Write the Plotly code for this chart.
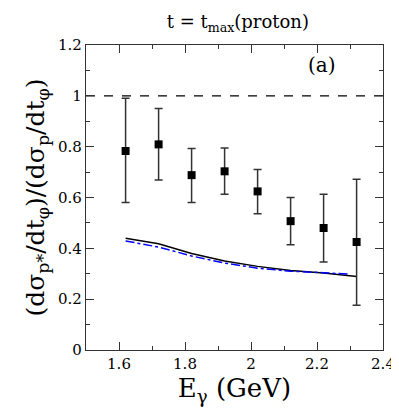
import plotly.graph_objects as go

# data
e_gamma = [1.62, 1.72, 1.82, 1.92, 2.02, 2.12, 2.22, 2.32]
ratio = [0.783, 0.809, 0.688, 0.703, 0.624, 0.507, 0.480, 0.425]
err_up = [0.207, 0.141, 0.105, 0.092, 0.086, 0.093, 0.133, 0.247]
err_down = [0.203, 0.140, 0.108, 0.090, 0.088, 0.093, 0.134, 0.249]

model_x = [1.62, 1.72, 1.82, 1.92, 2.02, 2.12, 2.22, 2.32]
model_solid = [0.440, 0.418, 0.380, 0.350, 0.329, 0.313, 0.303, 0.289]
model_dashdot_x = [1.62, 1.72, 1.82, 1.92, 2.02, 2.12, 2.22, 2.30]
model_dashdot = [0.429, 0.405, 0.370, 0.342, 0.322, 0.310, 0.304, 0.298]

unity_x = [1.5, 2.4]
unity_y = [1.0, 1.0]

serif = "DejaVu Serif"

fig = go.Figure()
fig.add_trace(go.Scatter(x=unity_x, y=unity_y, mode="lines",
                         line=dict(color="black", width=1.3, dash="dash")))
fig.add_trace(go.Scatter(x=model_x, y=model_solid, mode="lines",
                         line=dict(color="black", width=1.5)))
fig.add_trace(go.Scatter(x=model_dashdot_x, y=model_dashdot, mode="lines",
                         line=dict(color="blue", width=1.5, dash="dashdot")))
fig.add_trace(go.Scatter(
    x=e_gamma, y=ratio, mode="markers",
    marker=dict(symbol="square", size=8, color="black"),
    error_y=dict(type="data", array=err_up, arrayminus=err_down,
                 color="#333333", thickness=1.5, width=4)))

axis_common = dict(
    showgrid=False, zeroline=False, showline=True, linecolor="#333333",
    linewidth=1.2, mirror="allticks", ticks="inside", ticklen=8,
    tickcolor="#333333", tickfont=dict(family=serif, size=15, color="black"),
    ticklabeloverflow="allow",
    minor=dict(ticks="inside", ticklen=4, tickcolor="#333333", dtick=0.1),
)

fig.update_xaxes(range=[1.5, 2.4], tick0=1.6, dtick=0.2,
                 title=dict(text="E<sub>γ</sub> (GeV)",
                            font=dict(family=serif, size=26, color="black"),
                            standoff=2),
                 **axis_common)
fig.update_yaxes(range=[0, 1.2], tick0=0, dtick=0.2,
                 title=dict(text="(dσ<sub>p*</sub>/dt<sub>φ</sub>)/(dσ<sub>p</sub>/dt<sub>φ</sub>)",
                            font=dict(family=serif, size=25, color="black"),
                            standoff=6),
                 **axis_common)

fig.add_annotation(x=2.215, y=1.12, text="(a)", showarrow=False,
                   font=dict(family=serif, size=20, color="black"))

fig.update_layout(
    width=399, height=408,
    margin=dict(l=78, r=15, t=37, b=66),
    plot_bgcolor="white", paper_bgcolor="white",
    showlegend=False,
    font=dict(family=serif),
    title=dict(text="t = t<sub>max</sub>(proton)", x=0.576, xanchor="center",
               y=0.982, yanchor="top",
               font=dict(family=serif, size=18, color="black")),
)

fig.write_html("out.html")
